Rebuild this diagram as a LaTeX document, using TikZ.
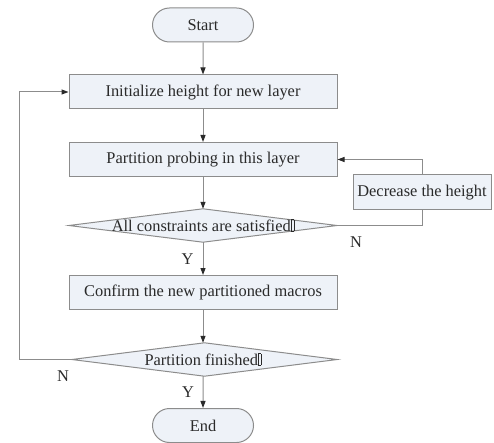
\documentclass[tikz,border=0pt]{standalone}
\usepackage{fontspec}
\setmainfont{Liberation Serif}
\usetikzlibrary{arrows.meta}
\definecolor{boxfill}{HTML}{EEF2F8}
\definecolor{edge}{HTML}{8C8C8C}
\definecolor{ink}{HTML}{2A2A2A}
% missing-glyph box printed after the questions
\newcommand{\tofubox}{\kern0.3pt{\fboxsep=0pt\fboxrule=0.5pt\fbox{\rule{0pt}{0.68em}\kern2.2pt}}}
\tikzset{
  x=1pt, y=-1pt,
  every node/.style={font=\fontsize{16.4}{19}\selectfont, text=ink},
  procbox/.style={draw=edge, fill=boxfill, line width=1pt, rectangle,
    minimum width=268pt, minimum height=34pt, inner sep=0pt},
  sidebox/.style={draw=edge, fill=boxfill, line width=1pt, rectangle,
    minimum width=138pt, minimum height=35pt, inner sep=0pt},
  termbox/.style={draw=edge, fill=boxfill, line width=1pt, rounded rectangle,
    minimum width=101pt, minimum height=34pt, inner sep=0pt},
  diaframe/.style={rectangle, inner sep=0pt, draw=none},
  diafill/.style={draw=edge, fill=boxfill, line width=1pt},
  flow/.style={draw=edge, line width=1pt, -{Triangle[length=7pt,width=5pt,color=ink]}},
  plain/.style={draw=edge, line width=1pt},
  tag/.style={inner sep=0pt}
}
\usetikzlibrary{shapes.misc}
\begin{document}
\begin{tikzpicture}
\useasboundingbox (0,0) rectangle (494,443);

\node[termbox] (start) at (203,25) {Start};
\node[procbox] (init) at (203,92) {Initialize height for new layer};
\node[procbox] (probe) at (203,159.5) {Partition probing in this layer};
\node[sidebox] (dec) at (422,192.5) {Decrease the height};

% first decision
\node[diaframe, minimum width=268pt, minimum height=33pt] (q1) at (203,225.5) {};
\draw[diafill] (q1.west) -- (q1.north) -- (q1.east) -- (q1.south) -- cycle;
\node[tag] (q1t) at (q1) {All constraints are satisfied\tofubox};

\node[procbox] (conf) at (203,292.5) {Confirm the new partitioned macros};

% second decision
\node[diaframe, minimum width=265pt, minimum height=33pt] (q2) at (204.5,359.5) {};
\draw[diafill] (q2.west) -- (q2.north) -- (q2.east) -- (q2.south) -- cycle;
\node[tag] (q2t) at (203,359.5) {Partition finished\tofubox};

\node[termbox] (end) at (203,425.5) {End};

\coordinate (rloop) at (422,225.5);
\coordinate (rtop) at (422,159.5);
\coordinate (lbot) at (19,359.5);
\coordinate (ltop) at (19,92);

\draw[flow] (start) -- (init);
\draw[flow] (init) -- (probe);
\draw[flow] (probe) -- (q1.north);
\draw[flow] (q1.south) -- (conf);
\draw[flow] (conf) -- (q2.north -| conf.north);
\draw[flow] (q2.south -| conf.south) -- (end);

\draw[plain] (q1.east) -- (rloop) -- (dec.south);
\draw[flow] (dec.north) -- (rtop) -- (probe.east);
\draw[flow] (q2.west) -- (lbot) -- (ltop) -- (init.west);

\node[tag] (n1) at (356,242) {N};
\node[tag] (y1) at (187.5,259.5) {Y};
\node[tag] (n2) at (63,376) {N};
\node[tag] (y2) at (188,392.5) {Y};
\end{tikzpicture}
\end{document}
